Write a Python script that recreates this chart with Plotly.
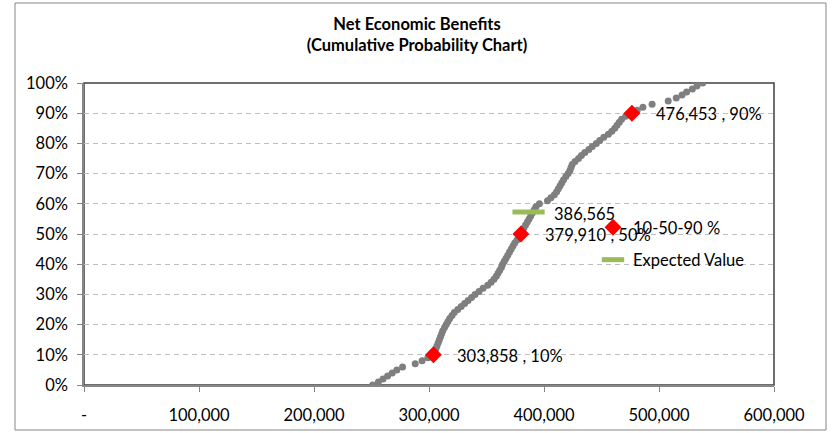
import plotly.graph_objects as go

# Simulated net economic benefit outcomes (sorted) and their cumulative probability
benefit_values = [
    251000, 256000, 260000, 264000, 268000, 272000, 277000, 288000, 294000, 299000,
    303858, 305000, 306000, 307000, 308000, 309000, 310000, 311000, 312000, 313500,
    315000, 316500, 318000, 320000, 322000, 325000, 328000, 331000, 334000, 337000,
    340000, 343500, 347000, 351000, 354000, 356500, 358500, 360000, 361500, 363000,
    364000, 365500, 367000, 368500, 370000, 371500, 373000, 374500, 376500, 378500,
    379910, 381000, 382500, 384000, 385500, 387000, 388500, 390000, 391500, 393000,
    396000, 403000, 406000, 409000, 411000, 412500, 414000, 415500, 417000, 419000,
    421000, 422500, 423500, 424500, 427000, 430000, 432500, 435500, 439000, 442000,
    445500, 448500, 452000, 456000, 459000, 461500, 463500, 465500, 467500, 471000,
    476453, 481000, 486000, 494000, 508000, 515000, 520000, 524000, 529000, 533000,
    538000,
]
cumulative_prob = [
    0.00, 0.01, 0.02, 0.03, 0.04, 0.05, 0.06, 0.07, 0.08, 0.09,
    0.10, 0.11, 0.12, 0.13, 0.14, 0.15, 0.16, 0.17, 0.18, 0.19,
    0.20, 0.21, 0.22, 0.23, 0.24, 0.25, 0.26, 0.27, 0.28, 0.29,
    0.30, 0.31, 0.32, 0.33, 0.34, 0.35, 0.36, 0.37, 0.38, 0.39,
    0.40, 0.41, 0.42, 0.43, 0.44, 0.45, 0.46, 0.47, 0.48, 0.49,
    0.50, 0.51, 0.52, 0.53, 0.54, 0.55, 0.56, 0.57, 0.58, 0.59,
    0.60, 0.61, 0.62, 0.63, 0.64, 0.65, 0.66, 0.67, 0.68, 0.69,
    0.70, 0.71, 0.72, 0.73, 0.74, 0.75, 0.76, 0.77, 0.78, 0.79,
    0.80, 0.81, 0.82, 0.83, 0.84, 0.85, 0.86, 0.87, 0.88, 0.89,
    0.90, 0.91, 0.92, 0.93, 0.94, 0.95, 0.96, 0.97, 0.98, 0.99,
    1.00,
]

# P10 / P50 / P90 markers
pctl_values = [303858, 379910, 476453]
pctl_probs = [0.10, 0.50, 0.90]

# Expected value marker
expected_value = 386565
expected_prob = 0.573

x_tick_vals = [0, 100000, 200000, 300000, 400000, 500000, 600000]
x_tick_text = ["-", "100,000", "200,000", "300,000", "400,000", "500,000", "600,000"]

FONT = "Lato, 'Open Sans', sans-serif"
FS = 16.5
W, H = 834, 433
L, R, T, B = 84, 60, 83, 48  # plot area margins in px

fig = go.Figure()

fig.add_trace(go.Scatter(
    x=benefit_values, y=cumulative_prob, mode="markers",
    marker=dict(size=7, color="#7F7F7F"),
    showlegend=False, hoverinfo="x+y",
))

fig.add_trace(go.Scatter(
    x=pctl_values, y=pctl_probs, mode="markers", name="10-50-90 %",
    marker=dict(symbol="diamond", size=13, color="#FF0000"),
    legendgroup="a",
))

fig.add_trace(go.Scatter(
    x=[expected_value], y=[expected_prob], mode="markers", name="Expected Value",
    marker=dict(symbol="line-ew", size=23, line=dict(color="#9BBB59", width=5)),
    legendgroup="b",
))

# data labels
for v, p in zip(pctl_values, pctl_probs):
    fig.add_annotation(x=v, y=p, text=f"{v:,.0f} , {p:.0%}", showarrow=False,
                       xanchor="left", yanchor="middle", xshift=22, yshift=-1,
                       font=dict(family=FONT, size=FS, color="#000000"))
fig.add_annotation(x=expected_value, y=expected_prob, text=f"{expected_value:,.0f}",
                   showarrow=False, xanchor="left", yanchor="middle", xshift=23, yshift=-2,
                   font=dict(family=FONT, size=FS, color="#000000"))

pw, ph = W - L - R, H - T - B
def px_x(p):
    return (p - L) / pw
def px_y(p):
    return (H - B - p) / ph

# outer chart border and plot-area frame
fig.add_shape(type="rect", xref="paper", yref="paper",
              x0=px_x(15), x1=px_x(826), y0=px_y(430), y1=px_y(3),
              line=dict(color="#868686", width=1), layer="below")
fig.add_shape(type="rect", xref="paper", yref="paper", x0=0, x1=1, y0=0, y1=1,
              line=dict(color="#404040", width=1.5), layer="below")

fig.update_layout(
    width=W, height=H,
    margin=dict(l=L, r=R, t=T, b=B),
    paper_bgcolor="white", plot_bgcolor="white",
    font=dict(family=FONT, size=FS, color="#000000"),
    title=dict(text="<b>Net Economic Benefits</b><br><b>(Cumulative Probability Chart)</b>",
               x=0.5, xanchor="center", y=1 - 30 / H, yanchor="middle",
               font=dict(family=FONT, size=16.5, color="#000000")),
    xaxis=dict(range=[0, 600000], tickvals=x_tick_vals, ticktext=x_tick_text,
               showgrid=False, zeroline=False, showline=True, linecolor="#868686",
               linewidth=1.5, ticks="outside", ticklen=5, tickcolor="#868686",
               ticklabelstandoff=9, automargin=False, fixedrange=True),
    yaxis=dict(range=[0, 1], dtick=0.1, tickformat=".0%", showgrid=True,
               gridcolor="#BFBFBF", griddash="5px,4px", gridwidth=1,
               zeroline=False, showline=True, linecolor="#868686", linewidth=1.5,
               ticks="outside", ticklen=5, tickcolor="#868686",
               ticklabelstandoff=6, automargin=False, fixedrange=True),
    legend=dict(x=px_x(593), y=px_y(210), xanchor="left", yanchor="top",
                bgcolor="rgba(0,0,0,0)", font=dict(family=FONT, size=FS),
                tracegroupgap=8, itemwidth=30),
    showlegend=True,
)

fig.write_html("out.html")
